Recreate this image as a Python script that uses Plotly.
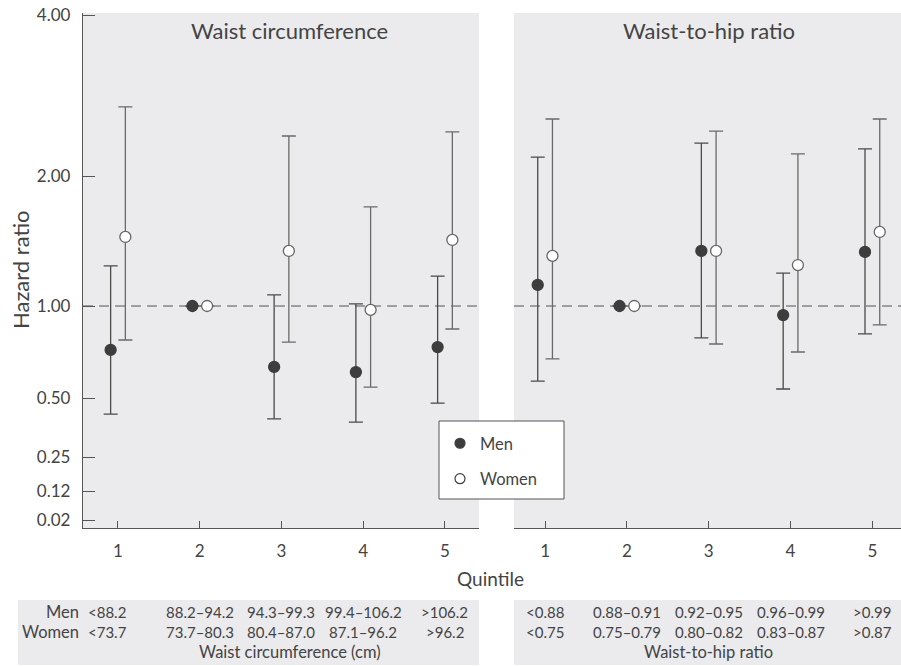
import numpy as np
import plotly.graph_objects as go

# ---------------- data ----------------
QUINTILES = [1, 2, 3, 4, 5]

WC_MEN_HR = [0.718, 1.0, 0.632, 0.608, 0.734]
WC_MEN_LO = [0.414, 1.0, 0.391, 0.377, 0.471]
WC_MEN_HI = [1.238, 1.0, 1.061, 1.011, 1.173]
WC_WOMEN_HR = [1.445, 1.0, 1.341, 0.971, 1.422]
WC_WOMEN_LO = [0.774, 1.0, 0.762, 0.543, 0.841]
WC_WOMEN_HI = [2.693, 1.0, 2.376, 1.696, 2.418]

WHR_MEN_HR = [1.119, 1.0, 1.341, 0.934, 1.334]
WHR_MEN_LO = [0.568, 1.0, 0.786, 0.535, 0.810]
WHR_MEN_HI = [2.170, 1.0, 2.305, 1.192, 2.247]
WHR_WOMEN_HR = [1.306, 1.0, 1.341, 1.244, 1.484]
WHR_WOMEN_LO = [0.671, 1.0, 0.751, 0.707, 0.867]
WHR_WOMEN_HI = [2.556, 1.0, 2.427, 2.199, 2.556]

Y_TICK_VALUES = [0.02, 0.12, 0.25, 0.50, 1.00, 2.00, 4.00]
Y_TICK_LABELS = ["0.02", "0.12", "0.25", "0.50", "1.00", "2.00", "4.00"]

WC_MEN_CUTS = ["<88.2", "88.2–94.2", "94.3–99.3", "99.4–106.2", ">106.2"]
WC_WOMEN_CUTS = ["<73.7", "73.7–80.3", "80.4–87.0", "87.1–96.2", ">96.2"]
WHR_MEN_CUTS = ["<0.88", "0.88–0.91", "0.92–0.95", "0.96–0.99", ">0.99"]
WHR_WOMEN_CUTS = ["<0.75", "0.75–0.79", "0.80–0.82", "0.83–0.87", ">0.87"]

# ---------------- scale (the figure's non-uniform hazard-ratio axis) ----------------
SCALE_POS = [8, 37, 71, 130, 222, 352, 513]   # axis units at each tick value
Y_RANGE = [0, 515]


def yscale(v):
    return np.interp(np.log(np.asarray(v, dtype=float)), np.log(Y_TICK_VALUES), SCALE_POS)


DODGE = 0.09
TEXT = "#444444"
FONT = "Lato"
MEN_COL = "#3d3d3d"
WOMEN_LINE = "#666666"

fig = go.Figure()


def add_series(xaxis, hr, lo, hi, offset, men):
    y = yscale(hr)
    up = yscale(hi) - y
    dn = y - yscale(lo)
    fig.add_trace(go.Scatter(
        x=[q + offset for q in QUINTILES], y=y, xaxis=xaxis, yaxis="y",
        mode="markers", showlegend=False, hoverinfo="skip",
        marker=dict(size=11, color=MEN_COL if men else "white",
                    line=dict(color=MEN_COL if men else WOMEN_LINE, width=1.3)),
        error_y=dict(type="data", symmetric=False, array=up, arrayminus=dn,
                     color="#4a4a4a" if men else "#6a6a6a", thickness=1.3, width=7),
    ))


add_series("x", WC_MEN_HR, WC_MEN_LO, WC_MEN_HI, -DODGE, True)
add_series("x", WC_WOMEN_HR, WC_WOMEN_LO, WC_WOMEN_HI, DODGE, False)
add_series("x2", WHR_MEN_HR, WHR_MEN_LO, WHR_MEN_HI, -DODGE, True)
add_series("x2", WHR_WOMEN_HR, WHR_WOMEN_LO, WHR_WOMEN_HI, DODGE, False)

# legend-only entries
fig.add_trace(go.Scatter(x=[None], y=[None], mode="markers", name="Men", legendgroup="m",
                         marker=dict(size=10, color=MEN_COL, line=dict(color=MEN_COL, width=1.2))))
fig.add_trace(go.Scatter(x=[None], y=[None], mode="markers", name="Women", legendgroup="w",
                         marker=dict(size=10, color="white", line=dict(color=MEN_COL, width=1.2))))

# reference line at HR = 1
for xr in ["x domain", "x2 domain"]:
    fig.add_shape(type="line", xref=xr, yref="y", x0=0, x1=1,
                  y0=float(yscale(1.0)), y1=float(yscale(1.0)),
                  line=dict(color="#555555", width=1.2, dash="10px,6px"), layer="below")

W, H = 901, 666
B_PLOT, T_PLOT = 528, 13
PH = B_PLOT - T_PLOT


def py(pix):
    return (B_PLOT - pix) / PH


# legend frame
fig.add_shape(type="rect", xref="paper", yref="paper", x0=439 / W, x1=564 / W, y0=py(499), y1=py(421),
              fillcolor="white", line=dict(color="#555555", width=1), layer="above")

# bottom table boxes
fig.add_shape(type="rect", xref="paper", yref="paper", x0=18 / W, x1=479 / W, y0=py(665), y1=py(600),
              fillcolor="#ebebed", line=dict(width=0), layer="below")
fig.add_shape(type="rect", xref="paper", yref="paper", x0=514 / W, x1=1, y0=py(665), y1=py(600),
              fillcolor="#ebebed", line=dict(width=0), layer="below")

ann = []
nf = dict(family=FONT, color=TEXT, size=15)     # numeric cells
wf = dict(family=FONT, color=TEXT, size=16.5)   # word labels
for xref, men_cuts, women_cuts in [("x", WC_MEN_CUTS, WC_WOMEN_CUTS), ("x2", WHR_MEN_CUTS, WHR_WOMEN_CUTS)]:
    for q, mc, wc in zip(QUINTILES, men_cuts, women_cuts):
        if q == 1 and xref == "x":
            pos = dict(x=86 / W, xref="paper", xanchor="left")
        else:
            pos = dict(x=q, xref=xref, xanchor="center")
        ann.append(dict(y=py(612), yref="paper", text=mc, showarrow=False,
                        font=nf, yanchor="middle", **pos))
        ann.append(dict(y=py(632), yref="paper", text=wc, showarrow=False,
                        font=nf, yanchor="middle", **pos))
ann.append(dict(x=81 / W, y=py(612), xref="paper", yref="paper", text="Men", showarrow=False,
                font=wf, xanchor="right", yanchor="middle"))
ann.append(dict(x=81 / W, y=py(632), xref="paper", yref="paper", text="Women", showarrow=False,
                font=wf, xanchor="right", yanchor="middle"))
ann.append(dict(x=3.1, y=py(652), xref="x", yref="paper", text="Waist circumference (cm)", showarrow=False,
                font=wf, xanchor="center", yanchor="middle"))
ann.append(dict(x=3, y=py(652), xref="x2", yref="paper", text="Waist-to-hip ratio", showarrow=False,
                font=wf, xanchor="center", yanchor="middle"))

# panel titles
big = dict(family=FONT, color=TEXT, size=22)
ann.append(dict(x=3.1, y=py(30), xref="x", yref="paper", text="Waist circumference", showarrow=False,
                font=big, xanchor="center", yanchor="middle"))
ann.append(dict(x=3, y=py(30), xref="x2", yref="paper", text="Waist-to-hip ratio", showarrow=False,
                font=big, xanchor="center", yanchor="middle"))
# axis titles
ann.append(dict(x=20 / W, y=py(270), xref="paper", yref="paper", text="Hazard ratio", showarrow=False,
                textangle=-90, font=dict(family=FONT, color=TEXT, size=22), xanchor="center", yanchor="middle"))
ann.append(dict(x=491 / W, y=py(578), xref="paper", yref="paper", text="Quintile", showarrow=False,
                font=dict(family=FONT, color=TEXT, size=19), xanchor="center", yanchor="middle"))

axis_common = dict(showgrid=False, zeroline=False, showline=True, linecolor="#555555", linewidth=1.3,
                   ticks="inside", tickcolor="#555555", ticklen=7, tickwidth=1.3,
                   tickvals=QUINTILES, ticktext=[str(q) for q in QUINTILES],
                   tickfont=dict(family=FONT, color=TEXT, size=17), ticklabelstandoff=7, fixedrange=True)

fig.update_layout(
    width=W, height=H,
    margin=dict(l=0, r=0, t=T_PLOT, b=H - B_PLOT),
    paper_bgcolor="white", plot_bgcolor="#ebebed",
    xaxis=dict(domain=[83 / W, 479 / W], range=[0.572, 5.416], anchor="y", **axis_common),
    xaxis2=dict(domain=[514 / W, 1.0], range=[0.62, 5.35], anchor="y", **axis_common),
    yaxis=dict(range=Y_RANGE, showgrid=False, zeroline=False, showline=True, linecolor="#555555",
               linewidth=1.3, ticks="inside", ticklen=12, tickwidth=1.3, tickcolor="#555555",
               tickvals=[float(v) for v in yscale(Y_TICK_VALUES)], ticktext=Y_TICK_LABELS,
               tickfont=dict(family=FONT, color=TEXT, size=17), ticklabelstandoff=8, fixedrange=True),
    showlegend=True,
    legend=dict(x=440 / W, y=py(426), xanchor="left", yanchor="top", bgcolor="rgba(0,0,0,0)",
                borderwidth=0, font=dict(family=FONT, color=TEXT, size=16.5),
                tracegroupgap=11, itemwidth=30),
    annotations=ann,
)

fig.write_html("out.html")
